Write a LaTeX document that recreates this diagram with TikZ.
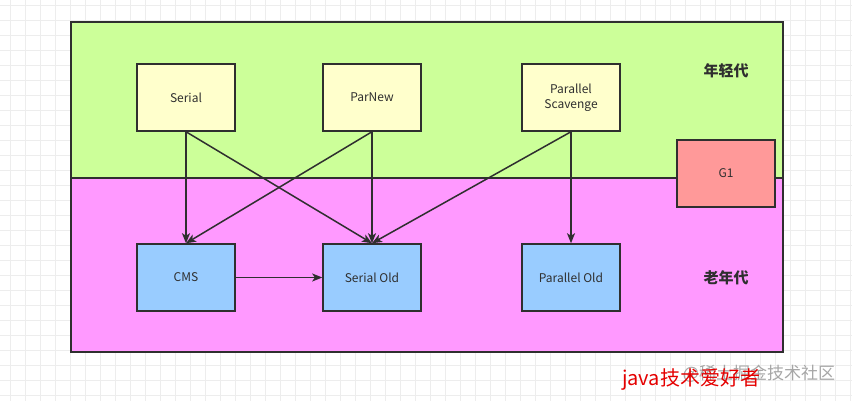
\documentclass[tikz,border=0pt]{standalone}
\usepackage{fontspec}
\setmainfont{Noto Sans CJK SC}
\usetikzlibrary{positioning}
\usetikzlibrary{calc,arrows.meta}
\definecolor{youngfill}{HTML}{CCFF99}
\definecolor{oldfill}{HTML}{FF99FF}
\definecolor{newgc}{HTML}{FFFFCC}
\definecolor{oldgc}{HTML}{99CCFF}
\definecolor{gonefill}{HTML}{FF9999}
\definecolor{edge}{HTML}{2F2F2F}
\definecolor{gridline}{HTML}{EDEDED}
\tikzset{
	gcbox/.style={draw=edge,line width=1.5pt,minimum width=98pt,minimum height=67pt,inner sep=2pt,align=center,text=edge,font=\fontsize{12}{15}\selectfont},
	genlabel/.style={text=edge,font=\fontsize{15}{18}\selectfont\bfseries},
	flow/.style={draw=edge,line width=1.5pt,-{Stealth[length=10pt,width=8pt,inset=2.5pt]}}
}
\begin{document}
\begin{tikzpicture}[x=1pt,y=-1pt]
		\useasboundingbox (0,0) rectangle (852,401);
		\fill[white] (0,0) rectangle (852,401);
		% grid
		\foreach \gx in {10,25,...,850} \draw[gridline,line width=0.8pt] (\gx,0) -- (\gx,401);
		\foreach \gy in {5,20,...,400} \draw[gridline,line width=0.8pt] (0,\gy) -- (852,\gy);
		% generations
		\draw[draw=edge,line width=1.5pt,fill=youngfill] (71,22) rectangle (783,178);
		\draw[draw=edge,line width=1.5pt,fill=oldfill] (71,178) rectangle (783,352);
		\node[genlabel] (young) at (726,71) {年轻代};
		\node[genlabel] (old) at (726,278) {老年代};
		% collectors
		\node[gcbox,fill=newgc] (serial) at (186,97.5) {Serial};
		\node[gcbox,fill=newgc] (parnew) at (372,97.5) {ParNew};
		\node[gcbox,fill=newgc] (scavenge) at (571,97.5) {Parallel\\Scavenge};
		\node[gcbox,fill=oldgc] (cms) at (186,277.5) {CMS};
		\node[gcbox,fill=oldgc] (serialold) at (372,277.5) {Serial Old};
		\node[gcbox,fill=oldgc] (parold) at (571,277.5) {Parallel Old};
		\node[gcbox,fill=gonefill] (gone) at (726,173.5) {G1};
		% combinations
		\draw[flow] (serial.south) -- (cms.north);
		\draw[flow] (serial.south) -- (serialold.north);
		\draw[flow] (parnew.south) -- (cms.north);
		\draw[flow] (parnew.south) -- (serialold.north);
		\draw[flow] (scavenge.south) -- (serialold.north);
		\draw[flow] (scavenge.south) -- (parold.north);
		\draw[flow] (cms.east) -- (serialold.west);
		% watermark
		\node[text=black!35,font=\fontsize{17}{20}\selectfont] (mark) at (759,374) {@稀土掘金技术社区};
		\node[text=red!90!black,font=\fontsize{20}{24}\selectfont] (author) at (691,380) {java技术爱好者};
	\end{tikzpicture}
\end{document}
